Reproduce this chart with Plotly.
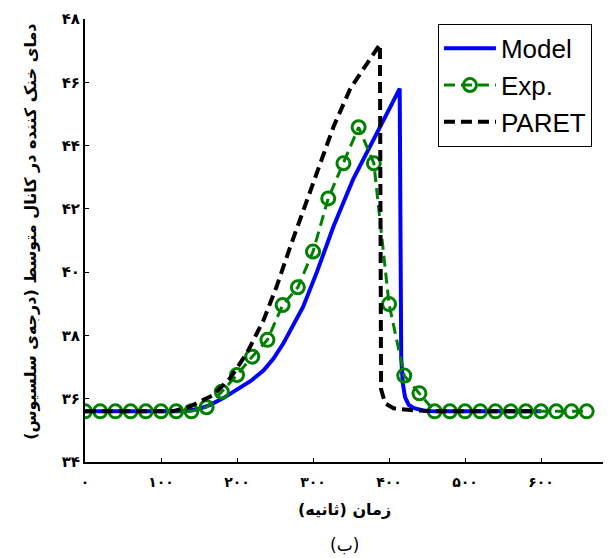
import plotly.graph_objects as go

# ---- data ----
model_t = [0, 130, 150, 164, 182, 200, 218, 235, 248, 261, 274, 287, 305, 327, 353, 379, 397, 414, 415, 416, 418, 421, 426, 433, 445, 460, 600]
model_T = [35.6, 35.6, 35.68, 35.8, 36.02, 36.28, 36.56, 36.9, 37.27, 37.75, 38.3, 38.91, 40.0, 41.45, 42.95, 44.2, 45.0, 45.8, 40.4, 37.3, 36.5, 36.05, 35.8, 35.7, 35.63, 35.6, 35.6]

exp_t = list(range(0, 661, 20))
exp_T = [35.6, 35.6, 35.6, 35.6, 35.6, 35.6, 35.6, 35.6,
         35.73, 36.22, 36.75, 37.33, 37.86, 38.96, 39.52, 40.65, 42.33, 43.44, 44.58, 43.44,
         38.99, 36.73, 36.17,
         35.6, 35.6, 35.6, 35.6, 35.6, 35.6, 35.6, 35.6, 35.6, 35.6, 35.6]

paret_t = [0, 115, 138, 169, 191, 213, 235, 252, 270, 287, 305, 327, 349, 371, 388, 389.5, 395, 406, 428, 460, 590]
paret_T = [35.6, 35.6, 35.75, 36.12, 36.65, 37.44, 38.49, 39.54, 40.8, 41.96, 43.15, 44.6, 45.8, 46.62, 47.2, 36.3, 35.85, 35.7, 35.64, 35.6, 35.6]

x_ticks = [0, 100, 200, 300, 400, 500, 600]
x_labels = ["۰", "۱۰۰", "۲۰۰", "۳۰۰", "۴۰۰", "۵۰۰", "۶۰۰"]
x_last_label = "۷۰۰"
y_ticks = [34, 36, 38, 40, 42, 44, 46, 48]
y_labels = ["۳۴", "۳۶", "۳۸", "۴۰", "۴۲", "۴۴", "۴۶", "۴۸"]

x_title = "زمان (ثانیه)"
y_title = "دمای خنک کننده در کانال متوسط (درجه‌ی سلسیوس)"
caption = "(ب)"

fa_font = "DejaVu Sans"
x_max = 692

fig = go.Figure()
fig.add_trace(go.Scatter(x=model_t, y=model_T, mode="lines", name="Model",
                         line=dict(color="#0000FF", width=4)))
fig.add_trace(go.Scatter(x=exp_t, y=exp_T, mode="lines+markers", name="Exp.",
                         line=dict(color="#008000", width=3, dash="11px,6px"),
                         marker=dict(symbol="circle-open", size=13, color="#008000",
                                     line=dict(width=3, color="#008000"))))
fig.add_trace(go.Scatter(x=paret_t, y=paret_T, mode="lines", name="PARET",
                         line=dict(color="black", width=4, dash="11px,6px")))

# page body has an 8px margin, so the figure is 8px smaller on each axis
fig.update_layout(
    width=603, height=550,
    margin=dict(l=77, r=0, t=11, b=96, autoexpand=False),
    paper_bgcolor="white", plot_bgcolor="white",
    showlegend=True,
    legend=dict(x=0.671, y=0.989, xanchor="left", yanchor="top",
                bordercolor="black", borderwidth=1, bgcolor="white",
                font=dict(family="Liberation Sans, Arial", size=26, color="black"),
                itemwidth=52, tracegroupgap=0),
    xaxis=dict(range=[0, x_max], tickvals=x_ticks, ticktext=x_labels,
               ticks="inside", ticklen=4, tickwidth=1, tickcolor="black",
               ticklabelstandoff=6,
               showline=True, linecolor="black", linewidth=2, mirror=False,
               showgrid=False, zeroline=False,
               tickfont=dict(family=fa_font, size=14, color="black", weight="bold")),
    yaxis=dict(range=[34, 48], tickvals=y_ticks, ticktext=y_labels,
               ticks="inside", ticklen=4, tickwidth=1, tickcolor="black",
               showline=True, linecolor="black", linewidth=2, mirror=False,
               showgrid=False, zeroline=False,
               tickfont=dict(family=fa_font, size=15, color="black", weight="bold")),
    annotations=[
        dict(x=700 / x_max, y=0, xref="paper", yref="paper", text="<b>" + x_last_label + "</b>",
             showarrow=False, xanchor="center", yanchor="top", yshift=-9,
             font=dict(family=fa_font, size=14, color="black")),
        dict(x=0.494, y=-0.108, xref="paper", yref="paper", text="<b>" + x_title + "</b>",
             showarrow=False, xanchor="center", yanchor="middle",
             font=dict(family=fa_font, size=16, color="black")),
        dict(x=-0.105, y=0.519, xref="paper", yref="paper", text="<b>" + y_title + "</b>",
             showarrow=False, xanchor="center", yanchor="middle", textangle=-90,
             font=dict(family=fa_font, size=16, color="black")),
        dict(x=0.494, y=-0.187, xref="paper", yref="paper", text=caption,
             showarrow=False, xanchor="center", yanchor="middle",
             font=dict(family=fa_font, size=17, color="black")),
    ],
)

fig.write_html("out.html")
